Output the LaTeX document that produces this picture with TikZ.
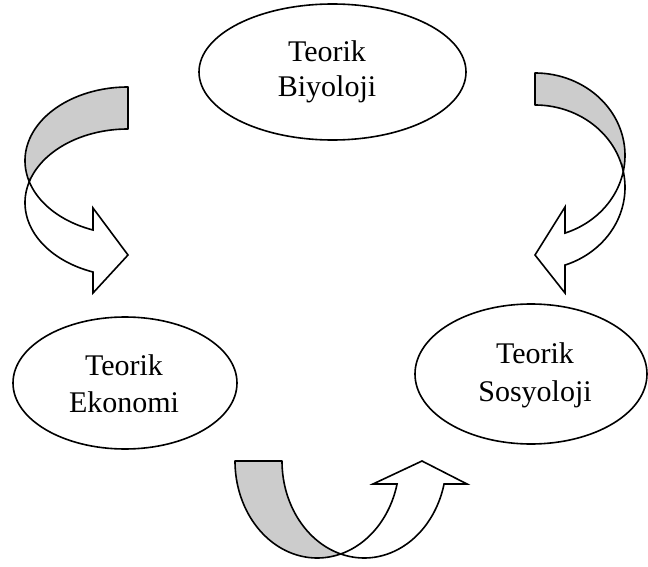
\documentclass[tikz,border=0pt]{standalone}
\usepackage{fontspec}
\setmainfont{Liberation Serif}
\usetikzlibrary{shapes.geometric}
\tikzset{
  oval/.style={draw=black, line width=1.6pt, ellipse, inner sep=0pt},
  lbl/.style={anchor=base, inner sep=0pt, font=\fontsize{30}{35}\selectfont},
  backband/.style={draw=black, line width=1.6pt, fill=gray!40, line join=round},
  frontband/.style={draw=black, line width=1.6pt, fill=white, line join=miter},
}
\begin{document}
\begin{tikzpicture}[x=1pt,y=-1pt]
\useasboundingbox (0,0) rectangle (648,567);

% ellipses
\node[oval, minimum width=267pt, minimum height=136pt] (bio) at (332.5,72) {};
\node[lbl] (bio1) at (327,62) {Teorik};
\node[lbl] (bio2) at (327,97) {Biyoloji};

\node[oval, minimum width=224pt, minimum height=132pt] (eko) at (125,383) {};
\node[lbl] (eko1) at (124,375) {Teorik};
\node[lbl] (eko2) at (124,412) {Ekonomi};

\node[oval, minimum width=232pt, minimum height=140pt] (sos) at (531,374) {};
\node[lbl] (sos1) at (535,363) {Teorik};
\node[lbl] (sos2) at (535,401) {Sosyoloji};

% left curved arrow (Biyoloji -> Ekonomi)
\filldraw[backband]
  plot[domain=270:163.44,samples=60] ({128+103*cos(\x)},{160.7+73.7*sin(\x)})
  -- plot[domain=196.56:270,samples=60] ({128+103*cos(\x)},{202.7+73.7*sin(\x)})
  -- cycle;
\filldraw[frontband]
  plot[domain=163.44:109.87,samples=60] ({128+103*cos(\x)},{160.7+73.7*sin(\x)})
  -- (93,208) -- (128,255) -- (93,293)
  -- plot[domain=109.87:196.56,samples=60] ({128+103*cos(\x)},{202.7+73.7*sin(\x)})
  -- cycle;

% right curved arrow (Biyoloji -> Sosyoloji)
\filldraw[backband]
  plot[domain=-90:11.2,samples=60] ({535+90*cos(\x)},{155.4+82.4*sin(\x)})
  -- plot[domain=-11.2:-90,samples=60] ({535+90*cos(\x)},{187.4+82.4*sin(\x)})
  -- cycle;
\filldraw[frontband]
  plot[domain=11.2:70.53,samples=60] ({535+90*cos(\x)},{155.4+82.4*sin(\x)})
  -- (565,207) -- (535,255) -- (565,293)
  -- plot[domain=70.53:-11.2,samples=60] ({535+90*cos(\x)},{187.4+82.4*sin(\x)})
  -- cycle;

% bottom curved arrow (Ekonomi -> Sosyoloji)
\filldraw[backband]
  plot[domain=180:73.39,samples=60] ({317.2+82.2*cos(\x)},{461+97*sin(\x)})
  -- plot[domain=106.61:180,samples=60] ({364.2+82.2*cos(\x)},{461+97*sin(\x)})
  -- cycle;
\filldraw[frontband]
  plot[domain=73.39:13.72,samples=60] ({317.2+82.2*cos(\x)},{461+97*sin(\x)})
  -- (373,484) -- (422,461) -- (467,484)
  -- plot[domain=13.72:106.61,samples=60] ({364.2+82.2*cos(\x)},{461+97*sin(\x)})
  -- cycle;
\end{tikzpicture}
\end{document}
